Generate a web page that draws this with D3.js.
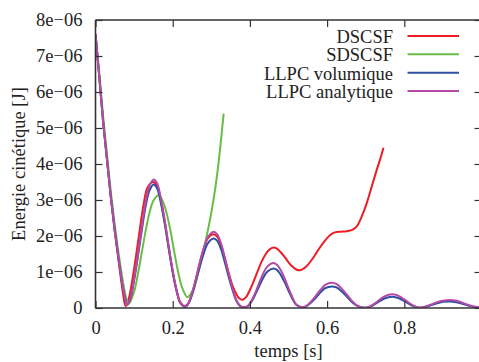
<!DOCTYPE html>
<html><head><meta charset="utf-8">
<script src="https://cdn.jsdelivr.net/npm/d3@7"></script>
<style>body{margin:0;background:#fff}svg{display:block}</style>
</head><body><div id="c"></div>
<script>
// Energie cinétique in units of 1e-6 J, time in s
const seriesNames = ["DSCSF", "SDSCSF", "LLPC volumique", "LLPC analytique"];
const seriesColors = ["#ee1c24", "#68bd45", "#2c4fa3", "#b54aa6"];
const xTicks = [0, 0.2, 0.4, 0.6, 0.8, 1.0];
const xTickLabels = ["0", "0.2", "0.4", "0.6", "0.8", ""];
const yTicks = [0, 1, 2, 3, 4, 5, 6, 7, 8];
const yTickLabels = ["0", "1e\u221206", "2e\u221206", "3e\u221206", "4e\u221206", "5e\u221206", "6e\u221206", "7e\u221206", "8e\u221206"];

const dscsf = [[0,7.6],[0.01,6.4],[0.02,5.15],[0.03,4.1],[0.04,3.05],[0.05,2.12],[0.06,1.3],[0.07,0.5],[0.078,0.05],[0.086,0.25],[0.095,0.75],[0.105,1.45],[0.115,2.2],[0.125,2.9],[0.135,3.35],[0.15,3.5],[0.16,3.38],[0.17,2.95],[0.18,2.35],[0.19,1.65],[0.2,1.0],[0.21,0.48],[0.22,0.15],[0.23,0.05],[0.24,0.12],[0.25,0.4],[0.26,0.8],[0.27,1.25],[0.28,1.63],[0.29,1.92],[0.306,2.05],[0.315,1.98],[0.325,1.75],[0.335,1.38],[0.345,0.98],[0.355,0.62],[0.365,0.38],[0.372,0.27],[0.381,0.23],[0.39,0.3],[0.4,0.5],[0.41,0.75],[0.42,1.02],[0.43,1.28],[0.44,1.48],[0.45,1.62],[0.461,1.68],[0.47,1.65],[0.48,1.55],[0.49,1.42],[0.5,1.27],[0.51,1.15],[0.52,1.07],[0.53,1.05],[0.54,1.1],[0.55,1.2],[0.565,1.41],[0.58,1.66],[0.595,1.88],[0.608,2.03],[0.62,2.1],[0.635,2.12],[0.651,2.13],[0.665,2.17],[0.677,2.27],[0.69,2.55],[0.703,2.92],[0.715,3.35],[0.729,3.85],[0.738,4.15],[0.746,4.45]];

const sdscsf = [[0,7.6],[0.01,6.5],[0.02,5.3],[0.03,4.25],[0.04,3.2],[0.05,2.3],[0.06,1.5],[0.07,0.8],[0.078,0.35],[0.086,0.11],[0.1,0.45],[0.11,0.95],[0.12,1.55],[0.13,2.15],[0.14,2.65],[0.15,2.98],[0.164,3.13],[0.175,2.95],[0.185,2.6],[0.195,2.1],[0.205,1.5],[0.215,0.95],[0.225,0.55],[0.238,0.3],[0.25,0.45],[0.26,0.75],[0.27,1.15],[0.28,1.6],[0.29,2.1],[0.3,2.65],[0.31,3.3],[0.32,4.15],[0.332,5.4]];

const llpcVol = [[0,7.6],[0.01,6.4],[0.02,5.15],[0.03,4.1],[0.04,3.05],[0.05,2.15],[0.06,1.35],[0.07,0.62],[0.076,0.3],[0.082,0.09],[0.09,0.24],[0.1,0.77],[0.11,1.44],[0.12,2.16],[0.13,2.83],[0.14,3.27],[0.151,3.43],[0.16,3.31],[0.17,2.88],[0.18,2.3],[0.19,1.63],[0.2,1.0],[0.21,0.48],[0.22,0.14],[0.233,0.03],[0.24,0.11],[0.25,0.36],[0.26,0.73],[0.27,1.14],[0.28,1.5],[0.29,1.78],[0.306,1.93],[0.315,1.87],[0.325,1.64],[0.335,1.27],[0.345,0.86],[0.355,0.5],[0.365,0.2],[0.375,0.05],[0.388,0.02],[0.395,0.05],[0.405,0.19],[0.415,0.4],[0.425,0.63],[0.435,0.85],[0.445,1.01],[0.461,1.1],[0.47,1.06],[0.48,0.92],[0.49,0.72],[0.5,0.48],[0.51,0.26],[0.52,0.09],[0.535,0.02],[0.545,0.04],[0.555,0.12],[0.565,0.22],[0.575,0.34],[0.585,0.46],[0.595,0.55],[0.612,0.6],[0.625,0.57],[0.635,0.49],[0.645,0.39],[0.655,0.27],[0.665,0.16],[0.675,0.08],[0.685,0.03],[0.699,0.01],[0.71,0.03],[0.72,0.08],[0.73,0.15],[0.74,0.21],[0.75,0.27],[0.768,0.31],[0.78,0.29],[0.79,0.25],[0.8,0.19],[0.81,0.13],[0.82,0.07],[0.83,0.03],[0.841,0.01],[0.855,0.03],[0.87,0.08],[0.885,0.13],[0.9,0.17],[0.918,0.18],[0.935,0.16],[0.95,0.12],[0.965,0.07],[0.98,0.03],[1.0,0.02]];

const llpcAna = [[0,7.6],[0.01,6.4],[0.02,5.15],[0.03,4.1],[0.04,3.05],[0.05,2.15],[0.06,1.35],[0.07,0.62],[0.076,0.3],[0.082,0.09],[0.09,0.25],[0.1,0.8],[0.11,1.5],[0.12,2.25],[0.13,2.95],[0.14,3.4],[0.151,3.57],[0.16,3.45],[0.17,3.0],[0.18,2.4],[0.19,1.7],[0.2,1.05],[0.21,0.5],[0.22,0.15],[0.233,0.04],[0.24,0.12],[0.25,0.4],[0.26,0.8],[0.27,1.25],[0.28,1.65],[0.29,1.95],[0.306,2.12],[0.315,2.05],[0.325,1.8],[0.335,1.4],[0.345,0.95],[0.355,0.55],[0.365,0.22],[0.375,0.06],[0.388,0.02],[0.395,0.06],[0.405,0.22],[0.415,0.45],[0.425,0.72],[0.435,0.97],[0.445,1.15],[0.461,1.25],[0.47,1.2],[0.48,1.05],[0.49,0.82],[0.5,0.55],[0.51,0.3],[0.52,0.1],[0.535,0.02],[0.545,0.05],[0.555,0.14],[0.565,0.26],[0.575,0.4],[0.585,0.53],[0.595,0.64],[0.612,0.7],[0.625,0.66],[0.635,0.57],[0.645,0.45],[0.655,0.32],[0.665,0.19],[0.675,0.09],[0.685,0.03],[0.699,0.01],[0.71,0.04],[0.72,0.1],[0.73,0.18],[0.74,0.26],[0.75,0.33],[0.768,0.38],[0.78,0.36],[0.79,0.31],[0.8,0.24],[0.81,0.16],[0.82,0.09],[0.83,0.03],[0.841,0.01],[0.855,0.04],[0.87,0.1],[0.885,0.16],[0.9,0.2],[0.918,0.22],[0.935,0.2],[0.95,0.15],[0.965,0.09],[0.98,0.04],[1.0,0.02]];

const allSeries = [dscsf, sdscsf, llpcVol, llpcAna];

const FONT = "'Liberation Serif', 'Times New Roman', Times, 'DejaVu Serif', serif";
const FS = "18.5px";
const W = 479, H = 362;
const m = {left: 95.5, top: 20, right: 481.5, bottom: 308};
const svg = d3.select("#c").append("svg").attr("width", W).attr("height", H)
  .style("font-family", FONT);
const x = d3.scaleLinear().domain([0, 1]).range([m.left, m.right]);
const y = d3.scaleLinear().domain([0, 8]).range([m.bottom, m.top]);

svg.append("clipPath").attr("id", "clip").append("rect")
  .attr("x", m.left).attr("y", m.top).attr("width", m.right - m.left).attr("height", m.bottom - m.top);

const line = d3.line().x(d => x(d[0])).y(d => y(d[1])).curve(d3.curveCatmullRom.alpha(0.5));
const g = svg.append("g").attr("clip-path", "url(#clip)");
allSeries.forEach((s, i) => {
  g.append("path").datum(s).attr("d", line).attr("fill", "none")
    .attr("stroke", seriesColors[i]).attr("stroke-width", 2).attr("stroke-linejoin", "round");
});

const tl = 7;
const axCol = "#333";
const axB = svg.append("g").attr("transform", `translate(0,${m.bottom})`)
  .call(d3.axisBottom(x).tickValues(xTicks).tickSize(-tl).tickPadding(13).tickFormat((d,i) => xTickLabels[i]));
const axT = svg.append("g").attr("transform", `translate(0,${m.top})`)
  .call(d3.axisTop(x).tickValues(xTicks).tickSize(-tl).tickFormat(""));
const axL = svg.append("g").attr("transform", `translate(${m.left},0)`)
  .call(d3.axisLeft(y).tickValues(yTicks).tickSize(-tl).tickPadding(13).tickFormat((d,i) => yTickLabels[i]));
const axR = svg.append("g").attr("transform", `translate(${m.right},0)`)
  .call(d3.axisRight(y).tickValues(yTicks).tickSize(-tl).tickFormat(""));
[axB, axT, axL, axR].forEach(a => {
  a.attr("font-family", null).attr("font-size", null);
  a.select(".domain").attr("stroke", axCol).attr("stroke-width", 1.6);
  a.selectAll(".tick line").attr("stroke", axCol).attr("stroke-width", 1.2);
  a.selectAll("text").style("font-family", FONT).style("font-size", FS).attr("fill", "#222");
});
axB.select(".domain").attr("d", `M${m.left},0H${m.right}`);
axT.select(".domain").attr("d", `M${m.left},0H${m.right}`);
axL.select(".domain").attr("d", `M0,${m.top}V${m.bottom}`);
axR.select(".domain").attr("d", `M0,${m.top}V${m.bottom}`);

svg.append("text").attr("x", (m.left + m.right) / 2).attr("y", 357).attr("text-anchor", "middle")
  .style("font-family", FONT).style("font-size", FS).attr("fill", "#222").text("temps [s]");
svg.append("text").attr("transform", `translate(24.5,${(m.top + m.bottom) / 2}) rotate(-90)`)
  .attr("text-anchor", "middle").style("font-family", FONT).style("font-size", FS).attr("fill", "#222")
  .text("Energie cinétique [J]");

const lg = svg.append("g");
const rowY = [36, 54.3, 72.7, 91];
seriesNames.forEach((n, i) => {
  lg.append("text").attr("x", 393).attr("y", rowY[i] + 7).attr("text-anchor", "end")
    .style("font-family", FONT).style("font-size", FS).attr("fill", "#222").text(n);
  lg.append("line").attr("x1", 407.5).attr("x2", 459).attr("y1", rowY[i]).attr("y2", rowY[i])
    .attr("stroke", seriesColors[i]).attr("stroke-width", 2);
});
</script></body></html>
